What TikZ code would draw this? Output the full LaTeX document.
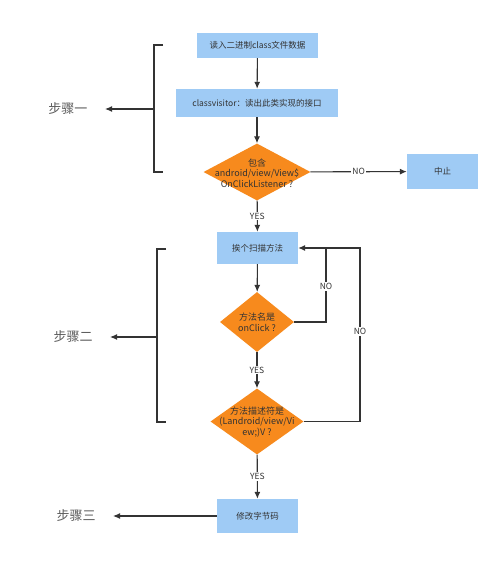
\documentclass[tikz,border=0pt]{standalone}
\usepackage{fontspec}
\setmainfont{Noto Sans CJK SC}
\usetikzlibrary{shapes.geometric,arrows.meta}
\definecolor{boxblue}{HTML}{9FCBF5}
\definecolor{dorange}{HTML}{F78A1D}
\definecolor{linec}{HTML}{333333}
\definecolor{txtc}{HTML}{333333}
\begin{document}
\begin{tikzpicture}[x=1pt,y=-1pt,
  procbox/.style={draw=none,fill=boxblue,inner sep=0pt,font=\fontsize{8.5}{10}\selectfont,text=txtc},
  decis/.style={diamond,draw=none,fill=dorange,inner sep=0pt},
  dtext/.style={align=center,font=\fontsize{9}{10.5}\selectfont,text=txtc,inner sep=0pt},
  steplab/.style={font=\fontsize{13}{15}\selectfont,text=txtc!80,inner sep=0pt},
  conn/.style={draw=linec,line width=1.1pt,-{Latex[length=7pt,width=6pt]}},
  plain/.style={draw=linec,line width=1.1pt},
  lab/.style={fill=white,inner sep=1pt,font=\fontsize{8.5}{10}\selectfont,text=txtc}]
\useasboundingbox (0,0) rectangle (500,563);
\fill[white] (0,0) rectangle (500,563);

\node[procbox,minimum width=121pt,minimum height=25pt] (b1) at (257.5,45.5) {读入二进制class文件数据};
\node[procbox,minimum width=162pt,minimum height=28pt] (b2) at (257,103) {classvisitor：读出此类实现的接口};
\node[decis,minimum width=107pt,minimum height=57pt] (d1) at (257,172) {};
\node[dtext] (d1t) at (257,173) {包含\\android/view/View\$\\OnClickListener ?};
\node[procbox,minimum width=71pt,minimum height=35pt] (stop) at (442.5,171.5) {中止};

\node[procbox,minimum width=81pt,minimum height=32pt] (b3) at (257.5,248) {挨个扫描方法};
\node[decis,minimum width=74pt,minimum height=60pt] (d2) at (257,322) {};
\node[dtext] (d2t) at (257,322) {方法名是\\onClick ?};
\node[decis,minimum width=93pt,minimum height=66pt] (d3) at (257,421.5) {};
\node[dtext] (d3t) at (257,422) {方法描述符是\\(Landroid/view/Vi\\ew;)V ?};
\node[procbox,minimum width=81pt,minimum height=34pt] (b4) at (257.5,516) {修改字节码};

\node[steplab] (s1) at (68,109) {步骤一};
\node[steplab] (s2) at (73,337) {步骤二};
\node[steplab] (s3) at (76,516) {步骤三};

% main flow
\draw[conn] (b1) -- (b2);
\draw[conn] (b2) -- (d1);
\draw[conn] (d1) -- node[lab]{NO} (stop);
\draw[conn] (d1) -- node[lab,pos=0.5]{YES} (b3);
\draw[conn] (b3) -- (d2);
\draw[conn] (d2) -- node[lab]{YES} (d3);
\draw[conn] (d3) -- node[lab]{YES} (b4);

% NO loops
\coordinate (j1) at (326,248);
\draw[plain] (d2.east) -| node[lab,pos=0.74]{NO} (j1);
\draw[plain] (d3.east) -- (360,421.5) -- node[lab,pos=0.52]{NO} (360,248) -- (j1);
\draw[conn] (j1) -- (b3.east);

% brackets
\coordinate (k1a) at (163,45);
\coordinate (k1b) at (163,172);
\draw[plain] (k1a) -- (154,45) -- (154,172) -- (k1b);
\coordinate (k1m) at (154,109);
\coordinate (t1) at (105,109);
\draw[conn] (k1m) -- (t1);
\coordinate (k2a) at (166,249);
\coordinate (k2b) at (166,422);
\draw[plain] (k2a) -- (157,249) -- (157,422) -- (k2b);
\coordinate (k2m) at (157,337);
\coordinate (t2) at (110,337);
\draw[conn] (k2m) -- (t2);
\coordinate (t3) at (113,516);
\draw[conn] (b4) -- (t3);
\end{tikzpicture}
\end{document}
